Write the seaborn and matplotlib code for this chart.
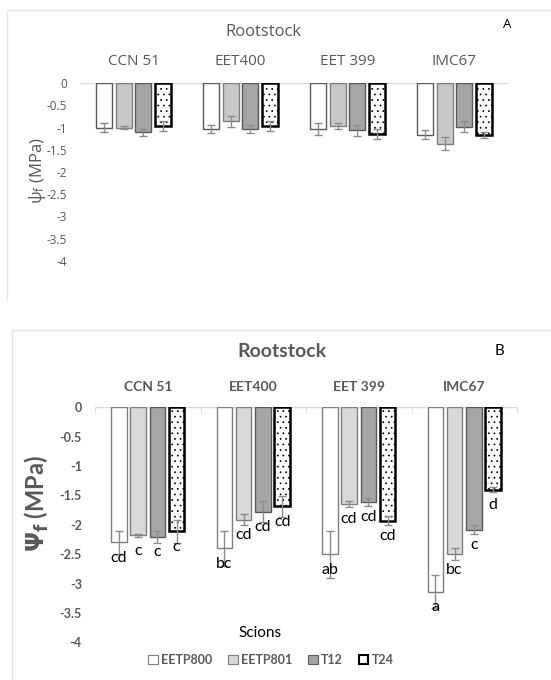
import numpy as np
import pandas as pd
import matplotlib
matplotlib.use("Agg")
import matplotlib.pyplot as plt
import seaborn as sns
from matplotlib.patches import Patch
from matplotlib.lines import Line2D
from matplotlib.container import BarContainer

sns.set_style("white")
plt.rcParams["font.family"] = ["Open Sans", "DejaVu Sans"]
plt.rcParams["hatch.linewidth"] = 0.5

rootstocks = ["CCN 51", "EET400", "EET 399", "IMC67"]
scions = ["EETP800", "EETP801", "T12", "T24"]
yticks = [0, -0.5, -1, -1.5, -2, -2.5, -3, -3.5, -4]
ytick_labels = ["0", "-0.5", "-1", "-1.5", "-2", "-2.5", "-3", "-3.5", "-4"]

# Panel A: means (MPa) per scion across rootstocks, and error bars
a_eetp800 = [-1.00, -1.03, -1.03, -1.16]
a_eetp801 = [-1.00, -0.86, -0.96, -1.36]
a_t12 = [-1.10, -1.03, -1.06, -0.98]
a_t24 = [-0.97, -0.96, -1.14, -1.16]
a_err_eetp800 = [0.10, 0.08, 0.14, 0.10]
a_err_eetp801 = [0.04, 0.12, 0.06, 0.15]
a_err_t12 = [0.08, 0.09, 0.13, 0.12]
a_err_t24 = [0.11, 0.11, 0.12, 0.07]

# Panel B
b_eetp800 = [-2.30, -2.40, -2.50, -3.14]
b_eetp801 = [-2.18, -1.91, -1.645, -2.50]
b_t12 = [-2.21, -1.78, -1.61, -2.08]
b_t24 = [-2.11, -1.685, -1.93, -1.40]
b_err_eetp800 = [0.20, 0.30, 0.40, 0.28]
b_err_eetp801 = [0.03, 0.10, 0.05, 0.10]
b_err_t12 = [0.10, 0.18, 0.07, 0.08]
b_err_t24 = [0.20, 0.18, 0.08, 0.05]
b_let_eetp800 = ["cd", "bc", "ab", "a"]
b_let_eetp801 = ["c", "cd", "cd", "bc"]
b_let_t12 = ["c", "cd", "cd", "c"]
b_let_t24 = ["c", "cd", "cd", "d"]


def make_df(series):
    rows = []
    for s, vals in zip(scions, series):
        for r, v in zip(rootstocks, vals):
            rows.append({"rootstock": r, "scion": s, "value": v})
    return pd.DataFrame(rows)


df_a = make_df([a_eetp800, a_eetp801, a_t12, a_t24])
df_b = make_df([b_eetp800, b_eetp801, b_t12, b_t24])
errs_a = [a_err_eetp800, a_err_eetp801, a_err_t12, a_err_t24]
errs_b = [b_err_eetp800, b_err_eetp801, b_err_t12, b_err_t24]
vals_b = [b_eetp800, b_eetp801, b_t12, b_t24]
lets_b = [b_let_eetp800, b_let_eetp801, b_let_t12, b_let_t24]

GRAY = "#595959"
BAR_W = 0.148

fig = plt.figure(figsize=(5.51, 6.8), dpi=100)

# panel frames
fig.add_artist(Line2D([7/551, 1.0], [1-10/680, 1-10/680], color="#e6e6e6", lw=1, transform=fig.transFigure))
fig.add_artist(Line2D([7/551, 7/551], [1-10/680, 1-300/680], color="#e6e6e6", lw=1, transform=fig.transFigure))
fig.add_artist(Line2D([12/551, 1.0], [1-330/680, 1-330/680], color="#e6e6e6", lw=1, transform=fig.transFigure))
fig.add_artist(Line2D([12/551, 12/551], [1-330/680, 0], color="#e6e6e6", lw=1, transform=fig.transFigure))


def bar_conts(ax):
    return [c for c in ax.containers if isinstance(c, BarContainer)]


def draw(ax, df, errs, colors, edges, lws, capsize, tickfont, catfont, minor):
    sns.barplot(data=df, x="rootstock", y="value", hue="scion", order=rootstocks,
                hue_order=scions, palette=colors, width=0.73,
                errorbar=None, legend=False, saturation=1, ax=ax)
    for i, cont in enumerate(bar_conts(ax)):
        for bar in cont:
            cx = bar.get_x() + bar.get_width() / 2
            bar.set_width(BAR_W)
            bar.set_x(cx - BAR_W / 2)
            bar.set_edgecolor(edges[i])
            bar.set_linewidth(lws[i])
            if scions[i] == "T24":
                bar.set_hatch("...")
        xs = [b.get_x() + b.get_width() / 2 for b in cont]
        ys = [min(b.get_y(), b.get_y() + b.get_height()) for b in cont]
        ax.errorbar(xs, ys, yerr=errs[i], fmt="none", ecolor="#8c8c8c",
                    elinewidth=1, capsize=capsize, capthick=1, zorder=5)
    ax.set_ylim(-4, 0)
    ax.set_xlim(-0.5, 3.5)
    for sp in ax.spines.values():
        sp.set_visible(False)
    ax.axhline(0, color="#d9d9d9", lw=1, zorder=0.5)
    ax.set_yticks(yticks)
    ax.set_yticklabels(ytick_labels, **tickfont)
    ax.tick_params(axis="y", length=0, pad=9.5)
    ax.xaxis.tick_top()
    ax.set_xticks(range(4))
    ax.set_xticklabels(rootstocks, **catfont)
    ax.tick_params(axis="x", length=0, pad=10)
    if minor:
        ax.set_xticks([-0.5, 0.5, 1.5, 2.5, 3.5], minor=True)
        ax.tick_params(axis="x", which="minor", length=4, direction="in",
                       color="#d9d9d9", top=True, bottom=False)
    ax.set_xlabel("")
    ax.set_ylabel("")


# ---------------- Panel A ----------------
ax1 = fig.add_axes([80/551, 1-260.7/680, 428/551, 177.4/680])
draw(ax1, df_a, errs_a,
     colors=["#ffffff", "#c8c8c8", "#a6a6a6", "#ffffff"],
     edges=["#595959", "#7f7f7f", "#595959", "#000000"],
     lws=[1.0, 1.0, 1.0, 1.8], capsize=2.6,
     tickfont=dict(fontsize=8.5, color=GRAY, family=["Open Sans", "DejaVu Sans"]),
     catfont=dict(fontsize=11, color=GRAY, family=["Open Sans", "DejaVu Sans"]),
     minor=False)
ax1.set_ylabel(r"$\mathregular{\psi_f}$ (MPa)", fontsize=12, color=GRAY,
               family=["Open Sans", "DejaVu Sans"])
ax1.yaxis.set_label_coords(-0.075, 0.505)
fig.text(263/551, 1-32/680, "Rootstock", ha="center", va="center", fontsize=12,
         color=GRAY, family=["Open Sans", "DejaVu Sans"])
fig.text(507/551, 1-25/680, "A", ha="center", va="center", fontsize=9.5,
         color="black", family=["Open Sans", "DejaVu Sans"])

# ---------------- Panel B ----------------
ax2 = fig.add_axes([95/551, 1-642.3/680, 422/551, 235/680])
draw(ax2, df_b, errs_b,
     colors=["#ffffff", "#d9d9d9", "#a6a6a6", "#ffffff"],
     edges=["#7f7f7f", "#7f7f7f", "#595959", "#000000"],
     lws=[1.0, 1.0, 1.0, 1.8], capsize=2.8,
     tickfont=dict(fontsize=9, color=GRAY, fontweight="bold", family=["Lato", "DejaVu Sans"]),
     catfont=dict(fontsize=10, color=GRAY, fontweight="bold", family=["Lato", "DejaVu Sans"]),
     minor=True)
ax2.set_ylabel(r"$\mathbf{\Psi_f}$ (MPa)", fontsize=17, color=GRAY, fontweight="bold",
               family=["Lato", "DejaVu Sans"])
ax2.yaxis.set_label_coords(-0.105, 0.59)

for i, cont in enumerate(bar_conts(ax2)):
    for j, bar in enumerate(cont):
        x = bar.get_x() + bar.get_width() / 2
        ax2.annotate(lets_b[i][j], (x, vals_b[i][j]), xytext=(0, -6),
                     textcoords="offset points", ha="center", va="top",
                     fontsize=11.5, color="black", family=["Lato", "DejaVu Sans"],
                     zorder=6)

fig.text(282/551, 1-351/680, "Rootstock", ha="center", va="center", fontsize=14,
         fontweight="bold", color=GRAY, family=["Lato", "DejaVu Sans"])
fig.text(500/551, 1-351/680, "B", ha="center", va="center", fontsize=11,
         color="black", family=["Lato", "DejaVu Sans"])
fig.text(260/551, 1-633/680, "Scions", ha="center", va="center", fontsize=11,
         color="black", family=["Lato", "DejaVu Sans"])

handles = [
    Patch(facecolor="#ffffff", edgecolor="#7f7f7f", lw=0.8),
    Patch(facecolor="#d9d9d9", edgecolor="#7f7f7f", lw=0.8),
    Patch(facecolor="#a6a6a6", edgecolor="#595959", lw=0.8),
    Patch(facecolor="#ffffff", edgecolor="#000000", lw=1.5),
]
leg = fig.legend(handles, scions, loc="center", bbox_to_anchor=(271/551, 1-660/680),
                 ncol=4, frameon=False, handlelength=0.75, handleheight=0.75,
                 handletextpad=0.25, columnspacing=1.3,
                 prop=dict(family=["Lato", "DejaVu Sans"], weight="bold", size=9))
for t in leg.get_texts():
    t.set_color(GRAY)

fig.savefig("out.png", dpi=100)
